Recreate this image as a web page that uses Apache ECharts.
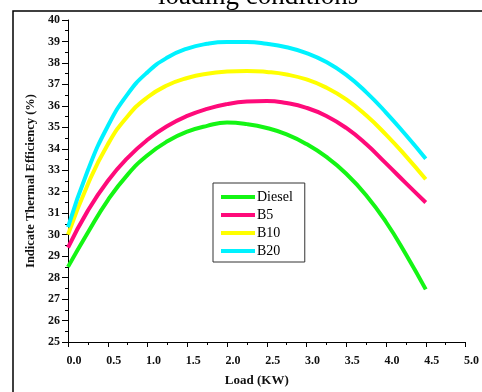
<!DOCTYPE html>
<html><head><meta charset="utf-8">
<script src="https://cdn.jsdelivr.net/npm/echarts@6/dist/echarts.min.js"></script>
<style>html,body{margin:0;padding:0;background:#fff}#c{width:482px;height:392px}</style>
</head><body><div id="c"></div>
<script>
var loads  = [0, 0.25, 0.5, 0.75, 1.0, 1.25, 1.5, 1.75, 2.0, 2.25, 2.5, 2.75, 3.0, 3.25, 3.5, 3.75, 4.0, 4.25, 4.5];
var diesel = [28.5, 30.1, 31.6, 32.8, 33.7, 34.35, 34.8, 35.07, 35.22, 35.15, 34.97, 34.67, 34.22, 33.62, 32.84, 31.84, 30.59, 29.09, 27.45];
var b5     = [29.4, 31.12, 32.5, 33.58, 34.42, 35.06, 35.53, 35.86, 36.08, 36.2, 36.23, 36.13, 35.91, 35.53, 34.97, 34.22, 33.32, 32.4, 31.5];
var b10    = [30.0, 32.35, 34.2, 35.52, 36.4, 36.96, 37.3, 37.5, 37.6, 37.63, 37.58, 37.46, 37.23, 36.85, 36.3, 35.56, 34.66, 33.66, 32.58];
var b20    = [30.35, 33.0, 35.05, 36.55, 37.57, 38.25, 38.67, 38.89, 38.97, 38.97, 38.89, 38.73, 38.46, 38.04, 37.44, 36.64, 35.69, 34.64, 33.54];
var names  = ['Diesel', 'B5', 'B10', 'B20'];
var colors = ['#14f514', '#ff0a7a', '#ffff00', '#00f2ff'];
var values = [diesel, b5, b10, b20];

function pairs(v){ return loads.map(function(x,i){ return [x, v[i]]; }); }

var chart = echarts.init(document.getElementById('c'), null, {renderer:'canvas'});
var font = '"Liberation Serif", "Times New Roman", serif';
chart.setOption({
  animation: false,
  backgroundColor: '#fff',
  title: {
    text: 'loading conditions', left: 153, top: -22,
    textStyle: {fontFamily: font, fontSize: 27, fontWeight: 'normal', color: '#000'}
  },
  graphic: [{
    type: 'rect', shape: {x: 13, y: 11, width: 520, height: 420},
    style: {fill: 'none', stroke: '#000', lineWidth: 1.5}, silent: true
  }],
  grid: {left: 68, right: 9, top: 20, bottom: 45},
  legend: {
    orient: 'vertical', left: 213, top: 183,
    data: names.map(function(n){ return {name: n, icon: 'rect'}; }),
    itemWidth: 34, itemHeight: 4, itemGap: 4,
    padding: [7, 12, 4, 8],
    borderColor: '#333', borderWidth: 1,
    textStyle: {fontFamily: font, fontSize: 14, color: '#000', padding: [0,0,0,-3]}
  },
  xAxis: {
    type: 'value', min: 0, max: 5, interval: 0.5,
    name: 'Load (KW)', nameLocation: 'middle', nameGap: 32,
    nameTextStyle: {fontFamily: font, fontSize: 13, fontWeight: 'bold', color: '#111', padding: [0,20,0,0]},
    axisLine: {show: true, lineStyle: {color: '#000', width: 1}},
    axisTick: {show: true, length: 5, lineStyle: {color: '#000'}},
    minorTick: {show: true, splitNumber: 2, length: 3, lineStyle: {color: '#000'}},
    splitLine: {show: false},
    axisLabel: {fontFamily: font, fontSize: 12, fontWeight: 'bold', color: '#111', margin: 13,
      padding: [0,0,0,12],
      formatter: function(v){ return v.toFixed(1); }}
  },
  yAxis: {
    type: 'value', min: 25, max: 40, interval: 1,
    name: 'Indicate Thermal Efficiency (%)', nameLocation: 'middle', nameGap: 28,
    nameTextStyle: {fontFamily: font, fontSize: 12.5, fontWeight: 'bold', color: '#111'},
    axisLine: {show: true, lineStyle: {color: '#000', width: 1}},
    axisTick: {show: true, length: 6, lineStyle: {color: '#000'}},
    minorTick: {show: true, splitNumber: 2, length: 3, lineStyle: {color: '#000'}},
    splitLine: {show: false},
    axisLabel: {fontFamily: font, fontSize: 12, fontWeight: 'bold', color: '#111', margin: 8}
  },
  series: names.map(function(n, i){
    return {
      name: n, type: 'line', data: pairs(values[i]), smooth: 0.5,
      symbol: 'none', showSymbol: false,
      lineStyle: {color: colors[i], width: 4},
      itemStyle: {color: colors[i]}
    };
  })
});
</script></body></html>
